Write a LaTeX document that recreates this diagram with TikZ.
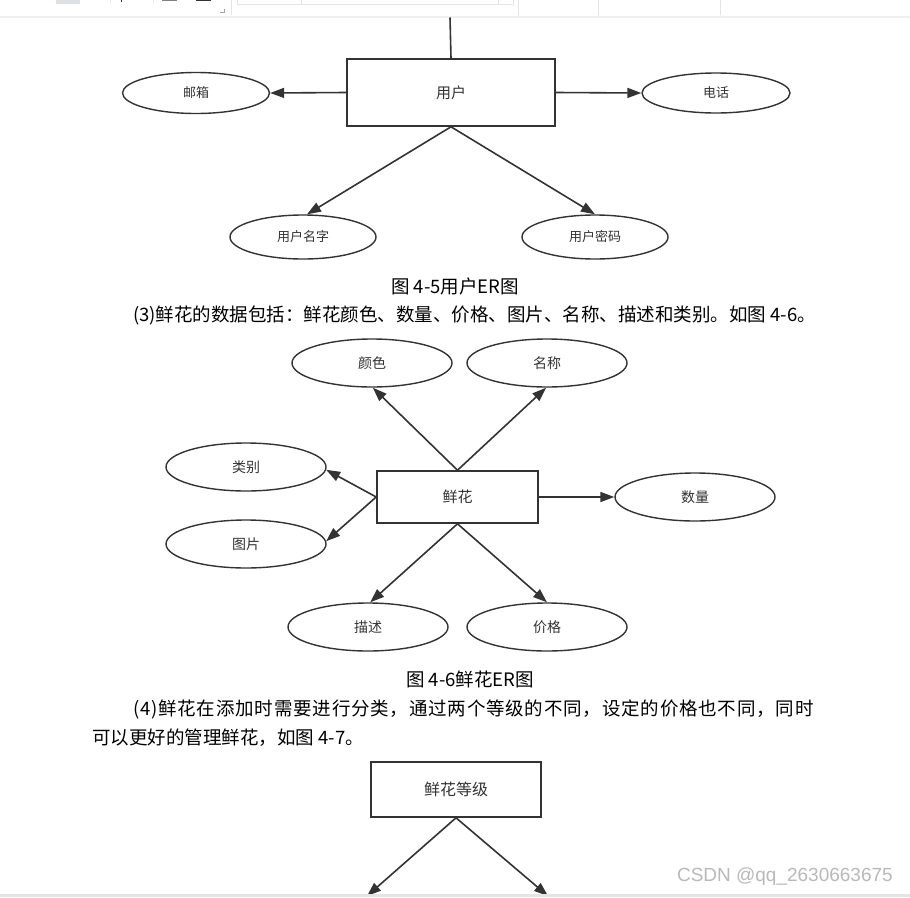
\documentclass[tikz,border=0pt]{standalone}
\usepackage{fontspec}
\setmainfont{Noto Sans CJK SC}
\newfontfamily\bodyfont{Noto Sans CJK SC}
\newfontfamily\bodyjust[LetterSpace=4.3]{Noto Sans CJK SC}
\newfontfamily\markfont{Liberation Sans}
\usetikzlibrary{arrows.meta,shapes.geometric}

\definecolor{er}{HTML}{333333}
\definecolor{uiline}{HTML}{E2E4E8}
\definecolor{uibox}{HTML}{DDE1E6}

\tikzset{
	entity/.style={draw=er, line width=1.6pt, fill=white, inner sep=0pt, font=\fontsize{15}{17}\selectfont},
	attr/.style={ellipse, draw=er, line width=1.4pt, fill=white, inner sep=0pt},
	link/.style={draw=er, line width=1.6pt, -{Triangle[length=14pt,width=10pt]}},
	bodytext/.style={text=black, inner sep=0pt, font=\bodyfont\fontsize{18.5}{22}\selectfont}
}

\begin{document}
\begin{tikzpicture}[x=1pt,y=-1pt, every node/.style={text=er, font=\fontsize{13}{15}\selectfont}]
	\useasboundingbox (0,0) rectangle (910,897);
	\fill[white] (0,0) rectangle (910,897);

	% toolbar strip
	\fill[uibox] (56,0) rectangle (80,4);
	\draw[uiline, line width=1pt] (110,0)--(110,3) (153,0)--(153,3);
	\fill[er] (120.5,0) rectangle (122,1.5);
	\fill[gray] (162,0) rectangle (177,1.2);
	\fill[black!80] (196,0) rectangle (211,1.2);
	\draw[gray!70, line width=0.8pt] (220,12)--(224,12)--(224,9);
	\draw[uiline, line width=0.8pt] (231,0)--(231,15) (518,0)--(518,15) (598,0)--(598,15) (720,0)--(720,15);
	\draw[uiline, line width=1pt] (237,0)--(237,4)--(513,4)--(513,0) (301,0)--(301,4) (498,0)--(498,4);
	\fill[gray!12] (0,16) rectangle (910,17.5);

	% 4-5: user
	\node[entity, minimum width=208pt, minimum height=67pt, text depth=-2pt] (yh) at (451,92.5) {用户};
	\node[attr, minimum width=147pt, minimum height=41pt] (yx) at (196,93) {邮箱};
	\node[attr, minimum width=148pt, minimum height=40pt] (dh) at (716,93) {电话};
	\node[attr, minimum width=146pt, minimum height=44pt] (ymz) at (303,237) {用户名字};
	\node[attr, minimum width=146pt, minimum height=44pt] (ymm) at (595,237) {用户密码};
	\coordinate (top) at (450,17.5);

	\draw[er, line width=1.6pt] (top)--(yh.north);
	\draw[link] (yh.west)--(yx.east);
	\draw[link] (yh.east)--(dh.west);
	\draw[link] (yh.south)--(ymz.80);
	\draw[link] (yh.south)--(ymm.north);

	\node[bodytext] (cap5) at (455,286) {图 4-5用户ER图};
	\node[bodytext, anchor=west] (p3) at (133,315) {(3)鲜花的数据包括：鲜花颜色、数量、价格、图片、名称、描述和类别。如图 4-6。};

	% 4-6: flower
	\node[entity, minimum width=161pt, minimum height=52pt] (xh) at (457.5,497) {鲜花};
	\begin{scope}[every node/.append style={attr, minimum width=160pt, minimum height=48pt, font=\fontsize{14}{16}\selectfont}]
		\node (ys) at (372,363) {颜色};
		\node (mc) at (547,363) {名称};
		\node (lb) at (246,467) {类别};
		\node (tp) at (246,544) {图片};
		\node (sl) at (695,497) {数量};
		\node (ms) at (368,627) {描述};
		\node (jg) at (547,627) {价格};
	\end{scope}

	\draw[link] (xh.north)--(ys.-88);
	\draw[link] (xh.north)--(mc.-92);
	\draw[link] (xh.west)--(lb.-2);
	\draw[link] (xh.west)--(tp.2);
	\draw[link] (xh.east)--(sl.west);
	\draw[link] (xh.south)--(ms.85);
	\draw[link] (xh.south)--(jg.north);

	\node[bodytext] (cap6) at (470,679) {图 4-6鲜花ER图};
	\node[bodytext, anchor=west, font=\bodyjust\fontsize{18.5}{22}\selectfont] (p4) at (133,709) {(4)鲜花在添加时需要进行分类，通过两个等级的不同，设定的价格也不同，同时};
	\node[bodytext, anchor=west] (p4b) at (92,738) {可以更好的管理鲜花，如图 4-7。};

	% 4-7: grade
	\node[entity, minimum width=170pt, minimum height=55pt, font=\fontsize{16}{18}\selectfont] (dj) at (456,789.5) {鲜花等级};
	\coordinate (dl) at (367,896);
	\coordinate (dr) at (548,896);
	\draw[link] (dj.south)--(dl);
	\draw[link] (dj.south)--(dr);

	\fill[uiline] (0,893.5) rectangle (910,897);
	\node[anchor=east, text=gray!55, inner sep=0pt, font=\markfont\fontsize{19}{21}\selectfont] (wm) at (893,877) {CSDN @qq\_2630663675};
\end{tikzpicture}
\end{document}
